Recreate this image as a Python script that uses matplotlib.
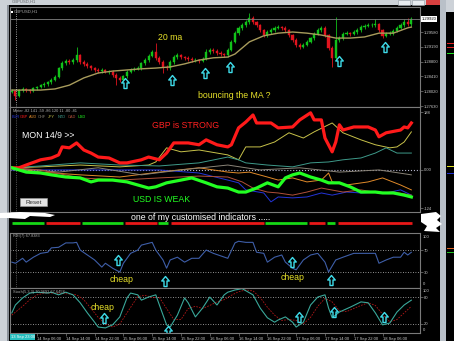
import matplotlib
matplotlib.use("Agg")
import matplotlib.pyplot as plt
import numpy as np
from matplotlib.path import Path
from matplotlib.patches import Rectangle, Polygon

W, H = 454, 341
GRID = "#7a7a7a"
AXIS_TXT = "#c8c8c8"
YELLOW = "#e8e22a"
CYAN = "#3fdcea"
X_LEFT, X_RIGHT = -0.5, 113.4

# ---- GBPUSD H1 candles ----
first_open = 1.2800
closes = [1.2803, 1.2789, 1.2805, 1.2808, 1.2805, 1.2803, 1.2810, 1.2813, 1.2818, 1.2821,
          1.2826, 1.2832, 1.2839, 1.2863, 1.2876, 1.2882, 1.2879, 1.2884, 1.2897, 1.2879,
          1.2874, 1.2868, 1.2863, 1.2858, 1.2855, 1.2858, 1.2853, 1.2853, 1.2845, 1.2837,
          1.2832, 1.2842, 1.2853, 1.2858, 1.2861, 1.2863, 1.2876, 1.2884, 1.2895, 1.2905,
          1.2890, 1.2879, 1.2866, 1.2863, 1.2879, 1.2892, 1.2897, 1.2892, 1.2890, 1.2887,
          1.2884, 1.2884, 1.2882, 1.2887, 1.2905, 1.2911, 1.2908, 1.2903, 1.2900, 1.2897,
          1.2911, 1.2932, 1.2955, 1.2969, 1.2976, 1.2984, 1.2995, 1.2984, 1.2976, 1.2963,
          1.2950, 1.2958, 1.2963, 1.2969, 1.2971, 1.2969, 1.2963, 1.2950, 1.2937, 1.2924,
          1.2919, 1.2924, 1.2932, 1.2942, 1.2953, 1.2963, 1.2969, 1.2950, 1.2916, 1.2890,
          1.2937, 1.2942, 1.2953, 1.2955, 1.2953, 1.2958, 1.2963, 1.2971, 1.2974, 1.2976,
          1.2976, 1.2979, 1.2963, 1.2948, 1.2953, 1.2955, 1.2961, 1.2969, 1.2976, 1.2984,
          1.2979, 1.2992]
highs = [1.2808, 1.2806, 1.2809, 1.2812, 1.2811, 1.2809, 1.2813, 1.2817, 1.2822, 1.2826,
         1.2830, 1.2836, 1.2844, 1.2867, 1.2881, 1.2888, 1.2887, 1.2890, 1.2919, 1.2901,
         1.2884, 1.2878, 1.2872, 1.2867, 1.2862, 1.2862, 1.2861, 1.2858, 1.2857, 1.2849,
         1.2841, 1.2846, 1.2857, 1.2862, 1.2866, 1.2868, 1.2880, 1.2889, 1.2900, 1.2911,
         1.2929, 1.2894, 1.2883, 1.2872, 1.2883, 1.2897, 1.2902, 1.2901, 1.2896, 1.2894,
         1.2891, 1.2889, 1.2888, 1.2891, 1.2913, 1.2916, 1.2915, 1.2912, 1.2907, 1.2904,
         1.2915, 1.2937, 1.2960, 1.2974, 1.2982, 1.2990, 1.3008, 1.2999, 1.2988, 1.2980,
         1.2967, 1.2962, 1.2968, 1.2973, 1.2976, 1.2975, 1.2973, 1.2967, 1.2954, 1.2941,
         1.2928, 1.2929, 1.2936, 1.2946, 1.2958, 1.2968, 1.2974, 1.2973, 1.2954, 1.2920,
         1.2998, 1.2948, 1.2957, 1.2960, 1.2959, 1.2962, 1.2968, 1.2976, 1.2979, 1.2981,
         1.2982, 1.2993, 1.2983, 1.2967, 1.2957, 1.2960, 1.2965, 1.2974, 1.2981, 1.2992,
         1.2996, 1.2997]
lows = [1.2796, 1.2779, 1.2786, 1.2801, 1.2800, 1.2798, 1.2800, 1.2806, 1.2810, 1.2814,
        1.2817, 1.2822, 1.2829, 1.2836, 1.2859, 1.2871, 1.2874, 1.2875, 1.2880, 1.2874,
        1.2869, 1.2864, 1.2858, 1.2853, 1.2850, 1.2851, 1.2849, 1.2848, 1.2840, 1.2818,
        1.2826, 1.2828, 1.2838, 1.2849, 1.2854, 1.2857, 1.2859, 1.2872, 1.2880, 1.2891,
        1.2885, 1.2874, 1.2850, 1.2857, 1.2859, 1.2875, 1.2888, 1.2887, 1.2885, 1.2882,
        1.2880, 1.2879, 1.2877, 1.2878, 1.2883, 1.2901, 1.2903, 1.2898, 1.2895, 1.2892,
        1.2893, 1.2907, 1.2928, 1.2950, 1.2964, 1.2971, 1.2980, 1.2979, 1.2971, 1.2958,
        1.2944, 1.2946, 1.2954, 1.2959, 1.2965, 1.2964, 1.2958, 1.2945, 1.2932, 1.2918,
        1.2913, 1.2915, 1.2920, 1.2928, 1.2938, 1.2949, 1.2959, 1.2945, 1.2910, 1.2866,
        1.2886, 1.2932, 1.2938, 1.2949, 1.2948, 1.2949, 1.2954, 1.2959, 1.2967, 1.2970,
        1.2971, 1.2972, 1.2958, 1.2942, 1.2944, 1.2949, 1.2951, 1.2957, 1.2965, 1.2972,
        1.2975, 1.2975]
ma_bars = [0, 4, 8, 12, 16, 20, 24, 28, 32, 36, 40, 44, 48, 52, 56, 60, 62, 64, 66,
           70, 74, 78, 82, 86, 90, 94, 98, 102, 106, 110, 111]
ma_values = [1.2805, 1.2805, 1.2805, 1.2808, 1.2818, 1.2837, 1.2850, 1.2855, 1.2858,
             1.2861, 1.2863, 1.2866, 1.2874, 1.2884, 1.2890, 1.2892, 1.2900, 1.2916,
             1.2932, 1.2948, 1.2955, 1.2958, 1.2955, 1.2950, 1.2942, 1.2942, 1.2945,
             1.2955, 1.2955, 1.2969, 1.2971]
price_ticks = [1.29580, 1.29190, 1.28800, 1.28410, 1.28020, 1.27630]
price_arrow_bars = [31.4, 44.5, 53.7, 60.6, 90.9, 103.7]
price_arrow_vals = [1.2823, 1.2832, 1.2850, 1.2866, 1.2882, 1.2919]

# ---- currency strength meter ----
meter_header = "Meter -82 141 -59 -86 120 11 -80 -81"
currencies = ["EUR", "GBP", "AUD", "CHF", "JPY", "NZD", "CAD", "USD"]
currency_colors = ["#2434d8", "#ff1a1a", "#e08a2a", "#8a8478", "#c8c24a", "#3e9a8a", "#b0503a", "#22ff22"]
gbp_x = [0, 2, 4, 8, 11, 13, 14, 16, 18, 20, 22, 24, 27, 30, 32, 36, 38, 41, 43, 45, 49, 52, 54,
         57, 60, 61, 63, 65, 67, 68, 72, 74, 78, 80, 83, 84, 86, 87, 89, 90, 91, 92, 95, 99, 101,
         102, 104, 108, 109, 110, 111]
gbp_v = [7, 7, 16, 33, 39, 49, 75, 72, 88, 65, 55, 42, 39, 23, 23, 33, 42, 33, 55, 88, 88, 82, 98,
         82, 75, 82, 137, 156, 179, 153, 153, 137, 140, 163, 186, 163, 163, 104, 59, 91, 147, 130,
         140, 140, 130, 108, 121, 130, 140, 137, 153]
usd_x = [0, 4, 8, 11, 15, 19, 22, 24, 28, 32, 35, 38, 40, 43, 47, 50, 54, 57, 60, 63, 65, 68, 71,
         74, 76, 78, 80, 83, 86, 88, 91, 94, 97, 101, 103, 106, 109, 111]
usd_v = [7, -7, -10, -16, -23, -26, -39, -33, -33, -39, -49, -59, -55, -42, -33, -26, -42, -55,
         -59, -72, -72, -59, -42, -55, -26, -16, -10, -23, -33, -42, -42, -55, -72, -72, -75, -75,
         -82, -88]
jpy_x = [0, 8, 19, 30, 38, 40, 43, 47, 52, 60, 63, 65, 69, 73, 77, 81, 84, 89, 92, 97, 101, 105,
         107, 109, 111]
jpy_v = [7, 10, 16, 10, 16, 26, 72, 59, 65, 49, 33, 75, 75, 91, 121, 104, 124, 153, 121, 98, 82,
         72, 75, 91, 124]
nzd_x = [0, 8, 19, 30, 41, 52, 60, 63, 65, 71, 78, 83, 88, 92, 97, 101, 104, 107, 111]
nzd_v = [7, 13, 23, 16, 13, 23, 42, 33, 23, 16, 10, 23, 26, 33, 39, 55, 72, 55, 55]
eur_x = [0, 41, 52, 60, 63, 65, 70, 72, 74, 78, 82, 86, 89, 93, 97, 101, 104, 108, 111]
eur_v = [0, 0, -10, -33, -42, -65, -75, -104, -88, -91, -88, -75, -82, -72, -75, -72, -75, -65, -82]
aud_x = [0, 8, 19, 30, 41, 52, 60, 63, 66, 71, 74, 78, 82, 86, 88, 89, 93, 99, 103, 108, 111]
aud_v = [7, -7, -16, -23, -7, 7, -7, -10, -7, -23, -33, -26, -39, -33, -10, -39, -49, -39, -26,
         -49, -65]
cad_x = [0, 8, 19, 30, 41, 52, 60, 64, 67, 71, 74, 78, 82, 86, 92, 97, 102, 106, 111]
cad_v = [7, 0, -26, -33, -26, -20, -23, -39, -59, -72, -75, -82, -72, -59, -72, -65, -75, -72, -82]
chf_x = [0, 13, 24, 36, 47, 60, 69, 80, 91, 102, 111]
chf_v = [7, -7, 7, -16, 0, 16, 0, 7, -7, 0, -16]
meter_ticks = [188, 0, -124]
meter_labels = ["188", "0.00", "-124"]

# ---- trend bar row ----
sig_start = [0, 9.5, 19.5, 31.4, 40.6, 44.2, 70.3, 82.6, 87.6, 90.6]
sig_end = [8.9, 18.9, 30.9, 40.3, 43.4, 70.1, 82.0, 87.0, 89.8, 111.2]
sig_up = [True, False, True, False, True, False, True, False, True, False]

# ---- RSI(7) ----
rsi_x = [0, 1, 3, 4, 6, 8, 10, 11, 13, 15, 17, 18, 19, 21, 23, 25, 26, 28, 30, 31, 33, 35, 36,
         39, 40, 42, 43, 44, 46, 48, 50, 52, 54, 56, 60, 62, 63, 65, 67, 68, 70, 71, 73, 75, 76,
         78, 79, 81, 83, 85, 87, 88, 90, 92, 95, 98, 101, 102, 104, 106, 108, 109, 110, 111]
rsi_v = [48, 46, 55, 48, 57, 64, 66, 74, 75, 83, 83, 84, 70, 61, 52, 39, 46, 37, 30, 46, 64, 70,
         79, 84, 70, 52, 37, 52, 57, 48, 55, 55, 70, 64, 55, 83, 86, 84, 84, 66, 64, 48, 57, 61,
         48, 37, 34, 52, 61, 64, 48, 30, 52, 57, 64, 64, 64, 46, 52, 57, 57, 66, 61, 66]
rsi_arrow_bars = [29.5, 42.6, 77.8, 88.7]
rsi_arrow_vals = [52, 14, 48, 16]

# ---- Stochastic(5,3,3) ----
stoch_x = [0, 1, 3, 5, 7, 10, 11, 13, 15, 17, 19, 21, 23, 24, 26, 28, 30, 32, 33, 35, 36, 38, 40,
           41, 43, 44, 46, 48, 49, 51, 53, 55, 57, 59, 60, 62, 64, 67, 69, 71, 73, 74, 76, 78, 79,
           81, 83, 85, 87, 88, 89, 91, 94, 97, 99, 101, 103, 105, 107, 109, 111]
stoch_k = [45, 63, 79, 90, 92, 90, 92, 86, 92, 86, 68, 45, 24, 13, 11, 18, 36, 79, 90, 86, 74, 81,
           86, 63, 18, 13, 40, 79, 68, 36, 56, 81, 63, 86, 92, 97, 100, 86, 56, 34, 24, 29, 36,
           24, 13, 24, 63, 81, 86, 56, 34, 47, 58, 70, 68, 45, 18, 22, 47, 63, 74]
stoch_d_x = [0, 3, 5, 7, 9, 12, 14, 16, 18, 20, 22, 24, 26, 28, 30, 32, 34, 35, 37, 39, 41, 43,
             45, 47, 49, 51, 53, 55, 57, 59, 61, 63, 65, 67, 69, 71, 73, 75, 77, 79, 81, 83, 85,
             87, 89, 91, 93, 95, 97, 99, 101, 103, 105, 107, 109, 111]
stoch_d = [40, 60, 75, 86, 90, 90, 89, 88, 86, 75, 55, 35, 20, 13, 20, 45, 70, 82, 85, 80, 80, 55,
           30, 30, 55, 60, 55, 62, 70, 75, 85, 93, 97, 95, 80, 58, 40, 28, 30, 28, 20, 35, 60, 78,
           70, 50, 48, 55, 62, 68, 62, 42, 25, 30, 45, 60]
stoch_arrow_bars = [25.6, 43.4, 79.8, 89.5, 103.4]
stoch_arrow_vals = [34, 3, 36, 47, 36]

time_ticks = [7, 15, 23, 31, 39, 47, 55, 63, 71, 79, 87, 95, 103]
time_labels = ["14 Sep 06:00", "14 Sep 14:00", "14 Sep 22:00", "15 Sep 06:00", "15 Sep 14:00",
               "15 Sep 22:00", "16 Sep 06:00", "16 Sep 14:00", "16 Sep 22:00", "17 Sep 06:00",
               "17 Sep 14:00", "17 Sep 22:00", "18 Sep 06:00"]

ARROW = Path([(0, 1), (0.75, 0.1), (0.3, 0.1), (0.3, -1), (-0.3, -1), (-0.3, 0.1), (-0.75, 0.1), (0, 1)],
             [Path.MOVETO] + [Path.LINETO] * 6 + [Path.CLOSEPOLY])


def px_rect(x0, y0, x1, y1):
    return [x0 / W, 1 - y1 / H, (x1 - x0) / W, (y1 - y0) / H]


def ftext(fig, x, y, s, **kw):
    kw.setdefault("va", "center")
    fig.text(x / W, 1 - y / H, s, **kw)


def frect(fig, x0, y0, x1, y1, color, z=-1, **kw):
    fig.add_artist(Rectangle((x0 / W, 1 - y1 / H), (x1 - x0) / W, (y1 - y0) / H,
                             transform=fig.transFigure, facecolor=color, zorder=z, **kw))


def fpoly(fig, pts, color, z=5):
    fig.add_artist(Polygon([(x / W, 1 - y / H) for x, y in pts], closed=True,
                           transform=fig.transFigure, facecolor=color, edgecolor="none", zorder=z))


def panel(fig, x0, y0, x1, y1):
    ax = fig.add_axes(px_rect(x0, y0, x1, y1))
    ax.set_facecolor("black")
    ax.set_xlim(X_LEFT, X_RIGHT)
    ax.set_xticks([])
    for spine in ax.spines.values():
        spine.set_color(GRID)
        spine.set_linewidth(0.8)
    ax.yaxis.tick_right()
    ax.tick_params(axis="y", colors=GRID, labelcolor=AXIS_TXT, labelsize=3, length=2,
                   width=0.5, pad=1)
    return ax


def up_arrows(ax, xs, ys):
    ax.plot(xs, ys, ls="none", marker=ARROW, ms=7.2, mfc="none", mec=CYAN, mew=1.0)


def draw_price(fig):
    ax = panel(fig, 10, 7, 420, 107)
    ax.set_ylim(1.27604, 1.30239)
    o = np.array([first_open] + closes[:-1])
    c = np.array(closes)
    x = np.arange(len(c))
    cols = np.where(c >= o, "#12c21a", "#e0141e")
    ax.vlines(x, lows, highs, colors=cols, lw=0.6)
    ax.bar(x, c - o, bottom=o, width=0.6, color=cols, edgecolor=cols, lw=0.3)
    ax.plot(ma_bars, ma_values, color="#a89c5c", lw=1.0)
    ax.axhline(closes[-1], color="#808080", lw=0.6)
    ax.axvline(1.3, color="#d0d0d0", ls=":", lw=0.6)
    ax.set_yticks(price_ticks)
    ax.set_yticklabels([f"{p:.5f}" for p in price_ticks])
    ax.text(1.004, closes[-1], f"{closes[-1]:.5f}", transform=ax.get_yaxis_transform(),
            fontsize=3, va="center", ha="left", color="black",
            bbox=dict(fc="white", ec="none", pad=0.6))
    up_arrows(ax, price_arrow_bars, price_arrow_vals)


def draw_meter(fig):
    ax = panel(fig, 10, 107, 420, 212)
    ax.set_ylim(-137, 205)
    ax.axhline(0, color="#b0b0c8", ls=":", lw=0.8)
    ax.axvline(1.3, color="#909090", ls=":", lw=0.5)
    thin = [(eur_x, eur_v, 0), (aud_x, aud_v, 2), (chf_x, chf_v, 3), (jpy_x, jpy_v, 4),
            (nzd_x, nzd_v, 5), (cad_x, cad_v, 6)]
    for xs, vs, k in thin:
        ax.plot(xs, vs, color=currency_colors[k], lw=0.7)
    ax.plot(gbp_x, gbp_v, color=currency_colors[1], lw=2.3)
    ax.plot(usd_x, usd_v, color=currency_colors[7], lw=2.3)
    ax.set_yticks(meter_ticks)
    ax.set_yticklabels(meter_labels)


def draw_signal_row(fig):
    ax = fig.add_axes(px_rect(10, 212, 420, 233))
    ax.set_facecolor("black")
    ax.set_xlim(X_LEFT, X_RIGHT)
    ax.set_ylim(0, 21)
    ax.axis("off")
    for s, e, up in zip(sig_start, sig_end, sig_up):
        ax.hlines(10.5, s, e, colors="#16d816" if up else "#e81818", lw=2.0)


def draw_rsi(fig):
    ax = panel(fig, 10, 233, 420, 288)
    ax.set_ylim(1, 101)
    for lvl in (70, 30):
        ax.axhline(lvl, color="#c0c0c0", ls=(0, (1, 2)), lw=0.6)
    ax.axvline(1.3, color="#909090", ls=":", lw=0.5)
    ax.plot(rsi_x, rsi_v, color="#3e5ea8", lw=0.8)
    ax.set_yticks([70, 30])
    ax.set_yticklabels(["70", "30"])
    ax.text(1.007, 0.97, "100", transform=ax.transAxes, fontsize=3, color=AXIS_TXT, va="top")
    ax.text(1.007, 0.03, "0", transform=ax.transAxes, fontsize=3, color=AXIS_TXT, va="bottom")
    up_arrows(ax, rsi_arrow_bars, rsi_arrow_vals)


def draw_stoch(fig):
    ax = panel(fig, 10, 288, 420, 333)
    ax.set_ylim(-0.5, 101.5)
    for lvl in (80, 20):
        ax.axhline(lvl, color="#c0c0c0", ls=(0, (1, 2)), lw=0.6)
    ax.plot(stoch_d_x, stoch_d, color="#b01818", lw=0.6, ls=(0, (2, 1.5)))
    ax.plot(stoch_x, stoch_k, color="#3aa89a", lw=0.8)
    ax.set_yticks([80, 20])
    ax.set_yticklabels(["80", "20"])
    ax.text(1.007, 0.97, "100", transform=ax.transAxes, fontsize=3, color=AXIS_TXT, va="top")
    ax.text(1.007, 0.02, "0", transform=ax.transAxes, fontsize=3, color=AXIS_TXT, va="bottom")
    ax.set_xticks(time_ticks)
    ax.set_xticklabels(time_labels)
    ax.tick_params(axis="x", colors=GRID, labelcolor=AXIS_TXT, labelsize=3, length=2,
                   width=0.5, pad=1)
    for lab in ax.get_xticklabels():
        lab.set_ha("left")
    up_arrows(ax, stoch_arrow_bars, stoch_arrow_vals)


def draw_chrome(fig):
    frect(fig, 8, 5, 440, 341, "black", z=-2)
    frect(fig, 7, 5, 8.5, 341, "#8a9098", z=-1)
    frect(fig, 440, 0, 446, 341, "#b9c0c8", z=-1)
    frect(fig, 446, 12, 454, 341, "black", z=-1)
    for y, col in [(43, "#e02020"), (47, "#e02020"), (53, "#20e020"), (166, "#e0e020"),
                   (173, "#2030d0"), (248, "#e06020"), (252, "#20c020")]:
        frect(fig, 447, y, 454, y + 1.2, col, z=2)
    # window buttons
    for x0 in (398, 412):
        frect(fig, x0, 0, x0 + 12, 4.5, "#e8ecf0", z=2, edgecolor="#9098a0", lw=0.4)
    frect(fig, 426, 0, 440, 4.5, "#d84040", z=2)
    ftext(fig, 12, 1.5, "GBPUSD,H1", fontsize=3, color="#606468")
    frect(fig, 11, 10.5, 13, 12.5, "white", z=3)
    ftext(fig, 14, 11.5, "GBPUSD,H1", fontsize=3, color="#b0b0b0")
    # meter header
    ftext(fig, 13, 111, meter_header, fontsize=2.8, color="#b0b0b0")
    xs = [12, 20, 28.5, 38, 48, 57.5, 67.5, 78]
    for x, name, col in zip(xs, currencies, currency_colors):
        ftext(fig, x, 117, name, fontsize=2.8, color=col)
    ftext(fig, 13, 236.5, "RSI(7) 67.8383", fontsize=2.8, color="#b0b0b0")
    ftext(fig, 13, 291.5, "Stoch(5,3,3) 70.9692 67.6458", fontsize=2.8, color="#b0b0b0")
    # reset button
    frect(fig, 20, 198, 47, 206, "#e4e4e4", z=3, edgecolor="#a0a0a0", lw=0.4)
    ftext(fig, 33.5, 202, "Reset", fontsize=4.5, color="#303030", ha="center")
    # white smudges
    fpoly(fig, [(0, 213), (20, 212), (45, 213), (55, 215), (50, 217), (30, 216), (25, 219),
                (8, 218), (0, 218)], "white")
    fpoly(fig, [(421, 214), (436, 212), (441, 216), (437, 220), (442, 224), (436, 228),
                (440, 232), (424, 231), (427, 226), (421, 222)], "white")
    # current time box
    frect(fig, 10, 333.5, 35, 340, "#28c0c0", z=3)
    ftext(fig, 11, 337, "13 Sep 23:00", fontsize=3, color="white", zorder=4)


def draw_notes(fig):
    note = dict(fontsize=6.3, zorder=6)
    ftext(fig, 158, 38, "20 ma", color=YELLOW, **note)
    ftext(fig, 198, 95, "bouncing the MA ?", color=YELLOW, **note)
    ftext(fig, 152, 125, "GBP is STRONG", color="#ff2020", **note)
    ftext(fig, 22, 136, "MON 14/9 >>", color="white", **note)
    ftext(fig, 133, 200, "USD IS WEAK", color="#22ff22", **note)
    ftext(fig, 131, 217, "one of my customised indicators .....", color="white", **note)
    ftext(fig, 122, 279, "cheap", color=YELLOW, ha="center", **note)
    ftext(fig, 293, 278, "cheap", color=YELLOW, ha="center", **note)
    ftext(fig, 103, 307, "cheap", color=YELLOW, ha="center", **note)


def main():
    plt.rcParams["font.family"] = ["Liberation Sans", "DejaVu Sans"]
    fig = plt.figure(figsize=(W / 100, H / 100), dpi=100)
    fig.patch.set_facecolor("#cdd2d8")
    draw_chrome(fig)
    draw_price(fig)
    draw_meter(fig)
    draw_signal_row(fig)
    draw_rsi(fig)
    draw_stoch(fig)
    draw_notes(fig)
    fig.savefig("out.png", dpi=100, facecolor=fig.get_facecolor())
    plt.close(fig)


if __name__ == "__main__":
    main()
